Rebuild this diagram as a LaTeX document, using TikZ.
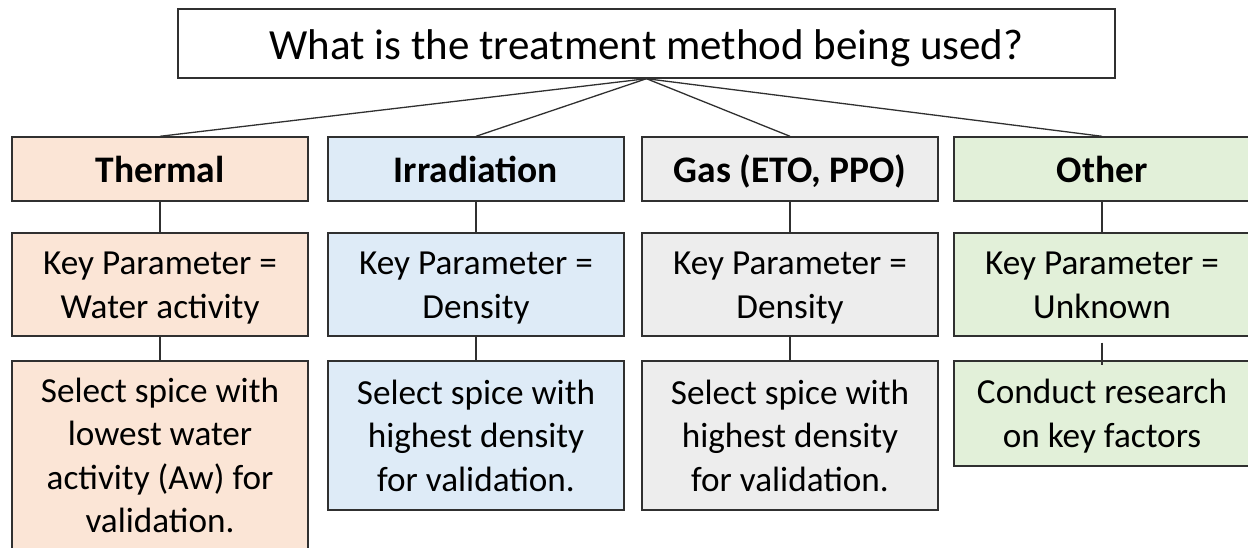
\documentclass[tikz,border=0pt]{standalone}
\usepackage{fontspec}
\setmainfont{Carlito}
\definecolor{thermalc}{HTML}{FBE5D6}
\definecolor{irrc}{HTML}{DEEBF7}
\definecolor{gasc}{HTML}{EDEDED}
\definecolor{otherc}{HTML}{E2F0D9}
\definecolor{edgec}{HTML}{303030}
\newcommand\tfix{\rule{0pt}{37pt}}
\newcommand\bfix{\rule[-13pt]{0pt}{13pt}}
\tikzset{
  box/.style={draw=edgec, line width=1.4pt, rectangle, inner sep=0pt, align=center,
    font=\fontsize{35.2}{43.5}\selectfont},
  title/.style={box, minimum width=296pt, minimum height=64pt, text height=32pt, text depth=4.6pt,
    font=\fontsize{37.5}{43.5}\selectfont\bfseries},
  param/.style={box, minimum width=296pt, minimum height=103pt},
  result/.style={box, minimum width=296pt},
  link/.style={draw=edgec, line width=1.3pt}
}
\begin{document}
\begin{tikzpicture}[x=1pt,y=-1pt]
\useasboundingbox (0,0) rectangle (1248,548);
\clip (0,0) rectangle (1248,548);
\node[box, minimum width=937pt, minimum height=69pt, text height=36pt, text depth=3pt,
  font=\fontsize{43}{50}\selectfont] (root) at (646.5,43.5) {What is the treatment method being used?};
% row 1
\node[title, fill=thermalc] (t1) at (160,169) {Thermal};
\node[title, fill=irrc] (i1) at (476,169) {Irradiation};
\node[title, fill=gasc] (g1) at (790,169) {Gas (ETO, PPO)};
\node[title, fill=otherc] (o1) at (1102,169) {Other};
% row 2
\node[param, fill=thermalc] (t2) at (160,284.5) {\tfix Key Parameter =\\Water activity\bfix};
\node[param, fill=irrc] (i2) at (476,284.5) {\tfix Key Parameter =\\Density\bfix};
\node[param, fill=gasc] (g2) at (790,284.5) {\tfix Key Parameter =\\Density\bfix};
\node[param, fill=otherc] (o2) at (1102,284.5) {\tfix Key Parameter =\\Unknown\bfix};
% row 3
\node[result, fill=thermalc, minimum height=189pt] (t3) at (160,455.5) {\tfix Select spice with\\lowest water\\activity (Aw) for\\validation.\bfix};
\node[result, fill=irrc, minimum height=149pt] (i3) at (476,435.5) {\tfix Select spice with\\highest density\\for validation.\bfix};
\node[result, fill=gasc, minimum height=149pt] (g3) at (790,435.5) {\tfix Select spice with\\highest density\\for validation.\bfix};
\node[result, fill=otherc, minimum height=105pt] (o3) at (1102,413.5) {\tfix Conduct research\\on key factors\bfix};
% connectors
\foreach \n in {t1,i1,g1,o1} \draw[link] (root.south) -- (\n.north);
\draw[link] (t1) -- (t2); \draw[link] (t2) -- (t3);
\draw[link] (i1) -- (i2); \draw[link] (i2) -- (i3);
\draw[link] (g1) -- (g2); \draw[link] (g2) -- (g3);
\draw[link] (o1) -- (o2);
\draw[link, shorten <=6pt, shorten >=-5pt] (o2.south) -- (o3.north);
\end{tikzpicture}
\end{document}
